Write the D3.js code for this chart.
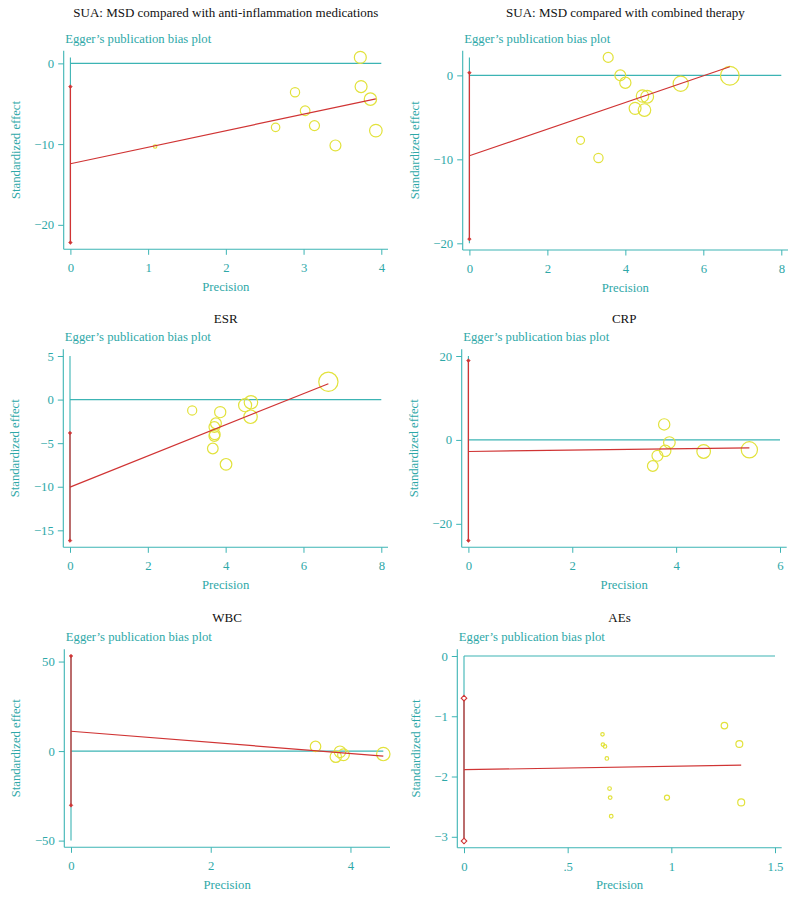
<!DOCTYPE html>
<html>
<head>
<meta charset="utf-8">
<script src="https://cdn.jsdelivr.net/npm/d3@7/dist/d3.min.js"></script>
<style>
body { margin: 0; background: #fff; }
text { font-family: "Liberation Serif", "DejaVu Serif", serif; }
</style>
</head>
<body>
<svg id="chart" width="797" height="897"></svg>
<script>
// panel titles
const titles = [
	'SUA: MSD compared with anti-inflammation medications',
	'SUA: MSD compared with combined therapy',
	'ESR',
	'CRP',
	'WBC',
	'AEs'
];

// SUA vs anti-inflammation medications
const suaAntiPrecision = [3.73, 2.89, 3.74, 3.86, 3.02, 2.64, 3.14, 3.93, 3.41, 1.09];
const suaAntiEffect = [0.74, -3.57, -2.87, -4.43, -5.87, -7.92, -7.71, -8.33, -10.17, -10.3];
const suaAntiLine = [-12.43, -4.39];
const suaAntiCI = [-22.2, -2.88];

// SUA vs combined therapy
const suaCombPrecision = [3.56, 3.87, 4.0, 5.42, 6.68, 4.44, 4.56, 4.25, 4.49, 2.85, 3.31];
const suaCombEffect = [2.14, 0, -0.88, -1.0, -0.05, -2.46, -2.54, -3.93, -4.13, -7.74, -9.84];
const suaCombLine = [-9.57, 1.02];
const suaCombCI = [-19.5, 0.31];

// ESR
const esrPrecision = [6.64, 3.14, 3.86, 4.5, 4.65, 4.64, 3.75, 3.71, 3.72, 3.71, 3.67, 4.01];
const esrEffect = [2.04, -1.25, -1.44, -0.65, -0.31, -1.97, -2.73, -3.15, -3.98, -4.17, -5.61, -7.43];
const esrLine = [-10.04, 1.82];
const esrCI = [-16.18, -3.83];

// CRP
const crpPrecision = [3.77, 3.87, 3.79, 3.64, 3.55, 4.53, 5.41];
const crpEffect = [3.7, -0.63, -2.6, -3.78, -6.22, -2.76, -2.36];
const crpLine = [-2.76, -1.89];
const crpCI = [-24.0, 18.9];

// WBC
const wbcPrecision = [3.5, 3.85, 3.79, 3.9, 4.47];
const wbcEffect = [2.58, -0.39, -3.15, -2.05, -1.66];
const wbcLine = [11.07, -2.77];
const wbcCI = [-30.3, 53.1];

// AEs
const aePrecision = [0.668, 0.67, 0.68, 0.689, 0.702, 0.705, 0.71, 0.979, 1.256, 1.328, 1.337];
const aeEffect = [-1.30, -1.47, -1.50, -1.70, -2.2, -2.35, -2.66, -2.35, -1.155, -1.46, -2.43];
const aeLine = [-1.887, -1.81];
const aeCI = [-3.07, -0.70];

// tick values
const xTicks = [[0, 1, 2, 3, 4], [0, 2, 4, 6, 8], [0, 2, 4, 6, 8], [0, 2, 4, 6], [0, 2, 4], [0, 0.5, 1, 1.5]];
const yTicks = [[0, -10, -20], [0, -10, -20], [5, 0, -5, -10, -15], [20, 0, -20], [50, 0, -50], [0, -1, -2, -3]];

const panels = [
	{ precision: suaAntiPrecision, effect: suaAntiEffect, line: suaAntiLine, ci: suaAntiCI },
	{ precision: suaCombPrecision, effect: suaCombEffect, line: suaCombLine, ci: suaCombCI },
	{ precision: esrPrecision, effect: esrEffect, line: esrLine, ci: esrCI },
	{ precision: crpPrecision, effect: crpEffect, line: crpLine, ci: crpCI },
	{ precision: wbcPrecision, effect: wbcEffect, line: wbcLine, ci: wbcCI },
	{ precision: aePrecision, effect: aeEffect, line: aeLine, ci: aeCI }
];

// plot regions on the page
const layout = [
	{ left: 63.7, right: 388, top: 50.7, bottom: 249.3, titleY: 17, rUnit: 1.6, hollow: false },
	{ left: 462.7, right: 788, top: 50.7, bottom: 250, titleY: 17, rUnit: 1.4, hollow: false },
	{ left: 63.3, right: 388, top: 349.3, bottom: 547.3, titleY: 322.5, rUnit: 1.45, hollow: false },
	{ left: 461.7, right: 786.7, top: 349.3, bottom: 547.3, titleY: 322.5, rUnit: 1.5, hollow: false },
	{ left: 64.3, right: 390, top: 649.3, bottom: 847.3, titleY: 622, rUnit: 1.5, hollow: false },
	{ left: 457.3, right: 781.7, top: 649.3, bottom: 847.7, titleY: 622, rUnit: 2.6, hollow: true }
];

const teal = '#3cb4b4';
const tealText = '#2ea8a8';
const red = '#d03434';
const yellow = '#e2e23c';
const pad = 6.7;

function fmt(d) {
	var s = String(Math.abs(d)).replace(/^0\./, '.');
	return (d < 0 ? '\u2212' : '') + s;
}

function diamond(h) {
	return 'M0,' + (-h) + 'L' + h + ',0L0,' + h + 'L' + (-h) + ',0Z';
}

const svg = d3.select('#chart');

panels.forEach(function(p, i) {
	var L = layout[i];
	var g = svg.append('g');

	var xDom = d3.extent(xTicks[i].concat(p.precision));
	var yDom = d3.extent(yTicks[i].concat(p.effect, p.ci, p.line));

	var x = d3.scaleLinear().domain(xDom).range([L.left + pad, L.right - pad]);
	var y = d3.scaleLinear().domain(yDom).range([L.bottom - pad, L.top + pad]);
	var r = d3.scaleLinear().domain([0, 1]).range([0, L.rUnit]);

	// title
	g.append('text')
		.attr('x', (L.left + L.right) / 2)
		.attr('y', L.titleY)
		.attr('text-anchor', 'middle')
		.attr('font-size', 13)
		.attr('fill', '#111')
		.text(titles[i]);

	g.append('text')
		.attr('x', L.left + 1.5)
		.attr('y', L.top - 8)
		.attr('font-size', 12.7)
		.attr('fill', tealText)
		.text('Egger\u2019s publication bias plot');

	// axes
	var yAxis = g.append('g')
		.attr('transform', 'translate(' + L.left + ',0)')
		.call(d3.axisLeft(y).tickValues(yTicks[i]).tickFormat(fmt).tickSize(5.5).tickPadding(4));
	var xAxis = g.append('g')
		.attr('transform', 'translate(0,' + L.bottom + ')')
		.call(d3.axisBottom(x).tickValues(xTicks[i]).tickFormat(fmt).tickSize(5.5).tickPadding(8.4));

	[yAxis, xAxis].forEach(function(a) {
		a.select('.domain').remove();
		a.selectAll('line').attr('stroke', teal);
		a.selectAll('text')
			.attr('fill', tealText)
			.style('font-family', '"Liberation Serif", serif')
			.attr('font-size', 12.7);
	});

	g.append('line')
		.attr('x1', L.left).attr('x2', L.left)
		.attr('y1', L.top).attr('y2', L.bottom)
		.attr('stroke', teal).attr('stroke-width', 1.1);
	g.append('line')
		.attr('x1', L.left).attr('x2', L.right)
		.attr('y1', L.bottom).attr('y2', L.bottom)
		.attr('stroke', teal).attr('stroke-width', 1.1);

	// axis titles
	g.append('text')
		.attr('x', (L.left + L.right) / 2)
		.attr('y', L.bottom + 41.7)
		.attr('text-anchor', 'middle')
		.attr('font-size', 12.7)
		.attr('fill', tealText)
		.text('Precision');

	var minX = d3.min(yAxis.selectAll('text').nodes(), function(n) {
		var b = n.getBBox();
		return L.left + b.x;
	});
	var cx = minX - 19;
	var cy = (L.top + L.bottom) / 2;
	g.append('text')
		.attr('transform', 'translate(' + cx + ',' + cy + ') rotate(-90)')
		.attr('dy', '0.35em')
		.attr('text-anchor', 'middle')
		.attr('font-size', 12.7)
		.attr('fill', tealText)
		.text('Standardized effect');

	// reference lines at zero
	g.append('line')
		.attr('x1', x(xDom[0])).attr('x2', x(xDom[1]))
		.attr('y1', y(0)).attr('y2', y(0))
		.attr('stroke', teal).attr('stroke-width', 1.1);
	g.append('line')
		.attr('x1', x(0)).attr('x2', x(0))
		.attr('y1', y(yDom[0])).attr('y2', y(yDom[1]))
		.attr('stroke', teal).attr('stroke-width', 1.1);

	// studies
	g.append('g').selectAll('circle')
		.data(p.precision)
		.enter()
		.append('circle')
		.attr('cx', function(d) { return x(d) })
		.attr('cy', function(d, j) { return y(p.effect[j]) })
		.attr('r', function(d) { return r(d) })
		.attr('fill', 'none')
		.attr('stroke', yellow)
		.attr('stroke-width', 1.2);

	// intercept confidence interval
	g.append('line')
		.attr('x1', x(0)).attr('x2', x(0))
		.attr('y1', y(p.ci[0])).attr('y2', y(p.ci[1]))
		.attr('stroke', red).attr('stroke-width', 1.3);
	g.append('g').selectAll('path')
		.data(p.ci)
		.enter()
		.append('path')
		.attr('transform', function(d) { return 'translate(' + x(0) + ',' + y(d) + ')' })
		.attr('d', diamond(L.hollow ? 2.8 : 1.8))
		.attr('fill', L.hollow ? '#fff' : red)
		.attr('stroke', red)
		.attr('stroke-width', L.hollow ? 1.1 : 0.6);

	// Egger regression line
	var xEnd = d3.max(p.precision);
	g.append('line')
		.attr('x1', x(0)).attr('x2', x(xEnd))
		.attr('y1', y(p.line[0])).attr('y2', y(p.line[1]))
		.attr('stroke', red).attr('stroke-width', 1.2);
});
</script>
</body>
</html>
